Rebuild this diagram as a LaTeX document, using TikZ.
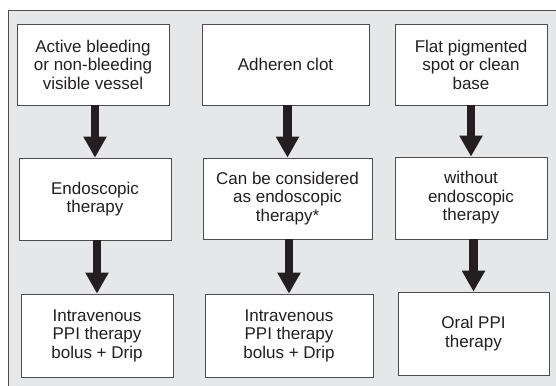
\documentclass[tikz,border=0pt]{standalone}
\usepackage{fontspec}
\setmainfont{Liberation Sans}
\usetikzlibrary{
  calc,
  positioning,
  arrows.meta}
\definecolor{panelgray}{RGB}{230,231,232}
\definecolor{inkdark}{RGB}{35,31,32}

\begin{document}
\begin{tikzpicture}[
  x=1pt,y=-1pt,
  line width=0.75pt,
  box/.style={draw=inkdark!80,fill=white,align=center,text=inkdark,
    font=\fontsize{17}{18.5}\selectfont,inner sep=2pt},
  blockarrow/.style={draw=inkdark,line width=8.5pt,
    -{Triangle[width=22pt,length=21pt]}}
]%
  \useasboundingbox (0,0) rectangle (556,385);
  \draw[draw=inkdark!80,fill=panelgray] (8,10) rectangle (570,400);

  % first row
  \node (mA1) [box,minimum width=152pt,minimum height=81pt] at (93,64.5)
    {Active bleeding\\or non-bleeding\\visible vessel};
  \node (mB1) [box,minimum width=167pt,minimum height=81pt] at (285.5,64.5)
    {Adheren clot};
  \node (mC1) [box,minimum width=152pt,minimum height=81pt] at (471,64.5)
    {Flat pigmented\\spot or clean\\base};

  % second row
  \node (mA2) [box,minimum width=152pt,minimum height=82pt] at (95,199)
    {Endoscopic\\therapy};
  \node (mB2) [box,minimum width=169pt,minimum height=81pt] at (287.5,198.5)
    {Can be considered\\as endoscopic\\therapy*};
  \node (mC2) [box,minimum width=152pt,minimum height=82pt] at (471,198)
    {without\\endoscopic\\therapy};

  % third row
  \node (mA3) [box,minimum width=152pt,minimum height=83pt] at (97,335.5)
    {Intravenous\\PPI therapy\\bolus + Drip};
  \node (mB3) [box,minimum width=168pt,minimum height=83pt] at (289,335.5)
    {Intravenous\\PPI therapy\\bolus + Drip};
  \node (mC3) [box,minimum width=151pt,minimum height=83pt] at (473.5,333.5)
    {Oral PPI\\therapy};

  \draw[blockarrow] (mA1.south -| mA2.north) -- (mA2.north);
  \draw[blockarrow] (mB1.south -| mB2.north) -- (mB2.north);
  \draw[blockarrow] (mC1.south -| mC2.north) -- (mC2.north);

  \draw[blockarrow] (mA2.south -| mA3.north) -- (mA3.north);
  \draw[blockarrow] (mB2.south -| mB3.north) -- (mB3.north);
  \draw[blockarrow] (mC2.south -| mC3.north) -- (mC3.north);

\end{tikzpicture}
\end{document}
